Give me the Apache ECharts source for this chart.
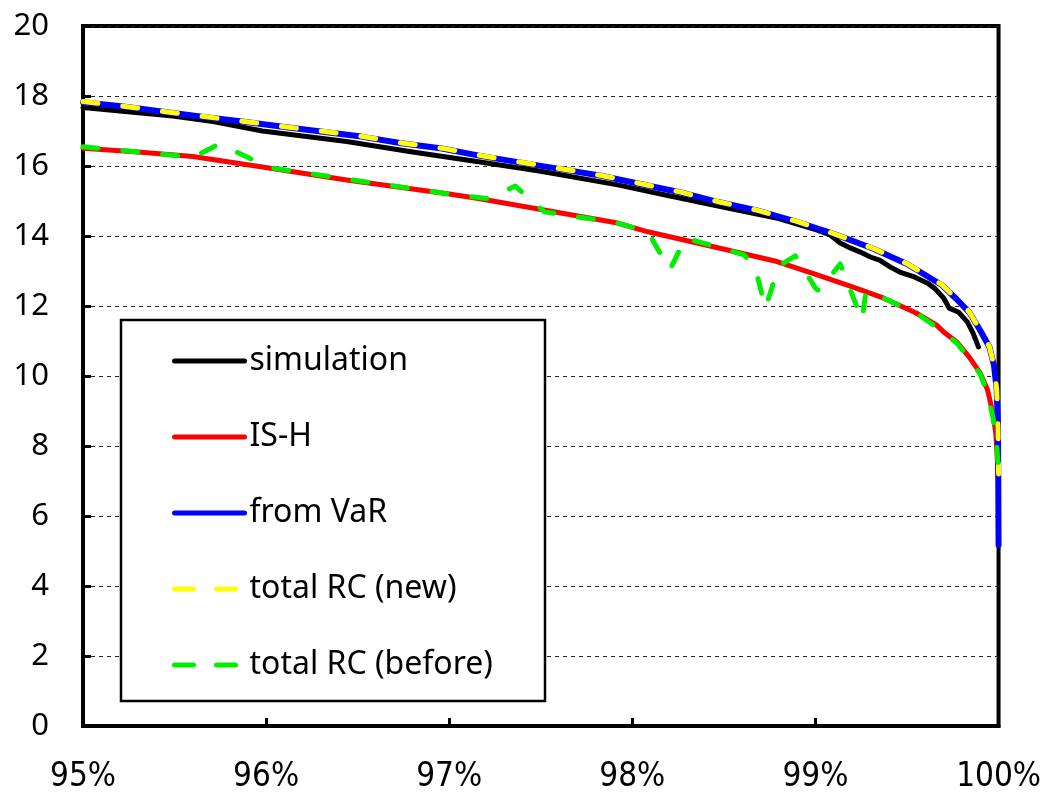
<!DOCTYPE html>
<html><head><meta charset="utf-8">
<script src="https://cdn.jsdelivr.net/npm/echarts@6/dist/echarts.min.js"></script>
<style>html,body{margin:0;padding:0;background:#fff}#c{width:1044px;height:801px}</style>
</head><body><div id="c"></div>
<script>
// ---- data ----
const seriesNames = ['simulation', 'IS-H', 'from VaR', 'total RC (new)', 'total RC (before)'];
const xTicks = [95, 96, 97, 98, 99, 100];
const yTicks = [0, 2, 4, 6, 8, 10, 12, 14, 16, 18, 20];

const simX = [95.0, 95.49, 95.71, 95.98, 96.44, 96.8, 97.16, 97.5, 97.92, 98.2, 98.52, 98.8, 99.01, 99.08, 99.135, 99.19, 99.245, 99.3, 99.35, 99.41, 99.46, 99.54, 99.61, 99.65, 99.7, 99.73, 99.78, 99.83, 99.86, 99.89];
const simY = [17.67, 17.43, 17.27, 17.0, 16.7, 16.4, 16.12, 15.85, 15.46, 15.15, 14.8, 14.5, 14.17, 14.03, 13.8, 13.66, 13.54, 13.4, 13.31, 13.11, 12.97, 12.83, 12.66, 12.51, 12.23, 11.94, 11.83, 11.54, 11.23, 10.83];

const ishX = [95.0, 95.3, 95.6, 95.98, 96.44, 97.0, 97.16, 97.54, 97.92, 98.085, 98.52, 98.79, 99.01, 99.19, 99.37, 99.55, 99.66, 99.7, 99.77, 99.84, 99.9, 99.94, 99.965, 99.985, 100];
const ishY = [16.51, 16.4, 16.27, 15.97, 15.6, 15.2, 15.07, 14.72, 14.37, 14.12, 13.6, 13.27, 12.89, 12.57, 12.23, 11.8, 11.46, 11.26, 10.98, 10.54, 10.08, 9.6, 9.03, 8.37, 7.0];

const varX = [95.0, 95.22, 95.44, 95.65, 95.87, 96.09, 96.31, 96.52, 96.74, 96.96, 97.17, 97.4, 97.61, 97.83, 98.05, 98.26, 98.47, 98.68, 98.89, 99.1, 99.31, 99.5, 99.69, 99.77, 99.84, 99.9, 99.95, 99.975, 99.99, 99.997, 100];
const varY = [17.82, 17.7, 17.55, 17.41, 17.27, 17.12, 16.98, 16.84, 16.65, 16.5, 16.29, 16.09, 15.91, 15.72, 15.48, 15.25, 14.97, 14.73, 14.42, 14.06, 13.65, 13.2, 12.6, 12.2, 11.82, 11.3, 10.83, 10.3, 9.6, 8.5, 5.17];

const newX = [95.0, 95.22, 95.44, 95.65, 95.87, 96.09, 96.31, 96.52, 96.74, 96.96, 97.17, 97.4, 97.61, 97.83, 98.05, 98.26, 98.47, 98.68, 98.89, 99.1, 99.31, 99.5, 99.69, 99.77, 99.84, 99.9, 99.95, 99.975, 99.99, 99.997, 100];
const newY = [17.84, 17.71, 17.56, 17.42, 17.28, 17.13, 16.99, 16.85, 16.66, 16.51, 16.3, 16.1, 15.92, 15.73, 15.49, 15.26, 14.98, 14.74, 14.43, 14.07, 13.66, 13.21, 12.61, 12.21, 11.83, 11.31, 10.84, 10.3, 9.6, 8.5, 7.2];

const befX = [95.0, 95.3, 95.6, 95.745, 95.9, 96.0, 96.5, 97.0, 97.22, 97.36, 97.52, 97.92, 98.085, 98.205, 98.29, 98.52, 98.61, 98.67, 98.727, 98.80, 98.89, 99.0, 99.02, 99.10, 99.135, 99.255, 99.276, 99.37, 99.55, 99.66, 99.77, 99.84, 99.9, 99.94, 99.97, 99.99, 100];
const befY = [16.55, 16.4, 16.25, 16.63, 16.25, 15.97, 15.58, 15.2, 15.06, 15.43, 14.69, 14.37, 14.12, 13.03, 13.94, 13.6, 13.46, 13.11, 11.94, 13.14, 13.43, 12.51, 12.43, 12.97, 13.2, 11.6, 12.43, 12.23, 11.8, 11.4, 10.95, 10.5, 10.05, 9.5, 8.8, 8.0, 7.3];

// ---- build ----
const zip = (xs, ys) => xs.map((x, i) => [x, ys[i]]);
const colors = ['#000000', '#ff0000', '#0000ff', '#ffff00', '#00ee00'];
const widths = [5, 5, 6, 5, 5];
const dashed = [false, false, false, true, true];
const datasets = [zip(simX, simY), zip(ishX, ishY), zip(varX, varY), zip(newX, newY), zip(befX, befY)];

const series = seriesNames.map((name, i) => ({
  name: name,
  type: 'line',
  data: datasets[i],
  showSymbol: false,
  symbol: 'none',
  smooth: false,
  z: 2 + i,
  lineStyle: {
    color: colors[i],
    width: widths[i],
    type: dashed[i] ? [15, 25] : 'solid',
    cap: 'round',
    join: 'round'
  },
  itemStyle: { color: colors[i] }
}));

const legendData = seriesNames.map((name, i) => ({
  name: name,
  itemStyle: { opacity: 0, color: 'rgba(0,0,0,0)', borderWidth: 0 },
  lineStyle: {
    color: colors[i],
    width: 5,
    type: dashed[i] ? [19, 23] : 'solid',
    cap: 'round'
  }
}));

const chart = echarts.init(document.getElementById('c'), null, { renderer: 'canvas' });
chart.setOption({
  animation: false,
  backgroundColor: '#ffffff',
  grid: {
    left: 83, right: 42, top: 26, bottom: 75,
    show: true, borderColor: '#000', borderWidth: 4, backgroundColor: 'transparent'
  },
  xAxis: {
    type: 'value',
    min: xTicks[0], max: xTicks[xTicks.length - 1], interval: 1,
    axisLine: { show: true, onZero: false, lineStyle: { color: '#000', width: 4 } },
    axisTick: { show: true, inside: true, length: 8, lineStyle: { color: '#000', width: 3 } },
    splitLine: { show: false },
    axisLabel: {
      formatter: '{value}%', color: '#000', fontSize: 33, margin: 35,
      fontFamily: "'Liberation Sans Narrow', 'Arial Narrow', 'DejaVu Sans Condensed', sans-serif"
    }
  },
  yAxis: {
    type: 'value',
    min: yTicks[0], max: yTicks[yTicks.length - 1], interval: 2,
    axisLine: { show: true, lineStyle: { color: '#000', width: 4 } },
    axisTick: { show: true, inside: true, length: 8, lineStyle: { color: '#000', width: 3 } },
    splitLine: { show: true, lineStyle: { color: '#222', width: 1, type: [4, 4] } },
    axisLabel: { color: '#000', fontSize: 31, margin: 34, fontFamily: "'Noto Sans', sans-serif" }
  },
  graphic: [{
    type: 'rect', z: 50,
    shape: { x: 121, y: 320, width: 424, height: 381 },
    style: { fill: '#fff', stroke: '#000', lineWidth: 2.5 }
  }],
  legend: {
    z: 60,
    orient: 'vertical', left: 172, top: 344, padding: 0,
    itemWidth: 70, itemHeight: 14, itemGap: 42,
    selectedMode: false,
    data: legendData,
    textStyle: { color: '#000', fontSize: 32, lineHeight: 34, fontFamily: "'Noto Sans', sans-serif" }
  },
  series: series
});
</script>
</body></html>
